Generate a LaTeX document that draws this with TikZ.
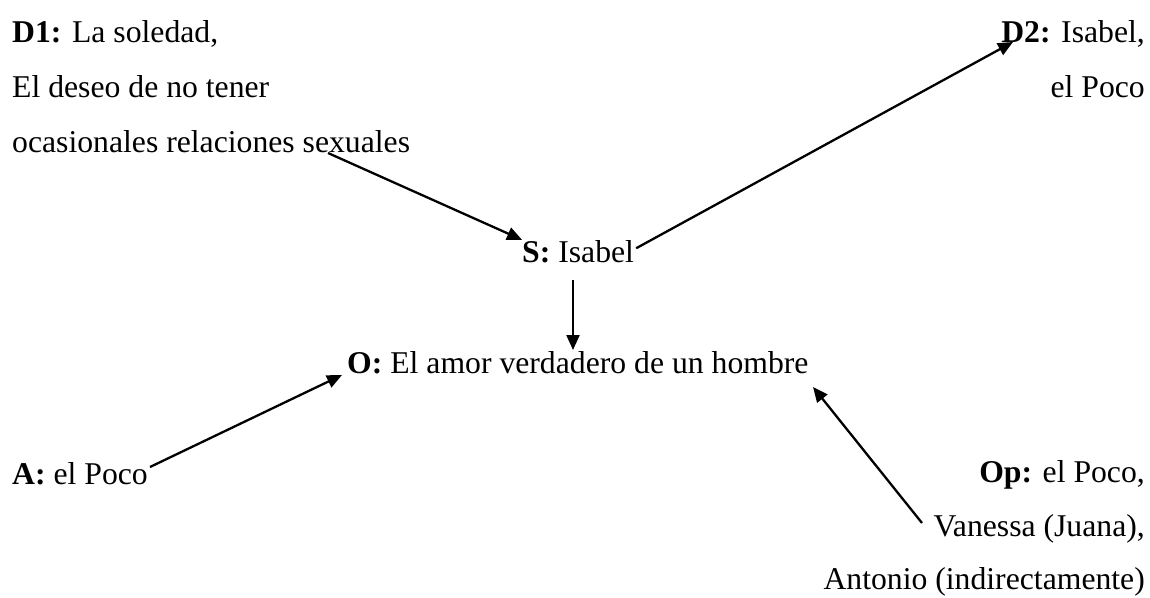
\documentclass[tikz,border=0pt]{standalone}
\usepackage{fontspec}
\setmainfont{Liberation Serif}
\usetikzlibrary{arrows.meta}
\begin{document}
\begin{tikzpicture}[x=1pt,y=-1pt,
  txt/.style={inner sep=0pt, font=\fontsize{31.7}{55}\selectfont},
  conn/.style={-{Triangle[length=15pt,width=13pt]}, line width=2.3pt}]
\useasboundingbox (0,0) rectangle (1150,597);
\node[txt, anchor=base west] (d1a) at (12,42) {\textbf{D1:} La soledad,};
\node[txt, anchor=base west] (d1b) at (12,97) {El deseo de no tener};
\node[txt, anchor=base west] (d1c) at (12,152) {ocasionales relaciones sexuales};
\node[txt, anchor=base east] (d2a) at (1145,42) {\textbf{D2:} Isabel,};
\node[txt, anchor=base east] (d2b) at (1145,97) {el Poco};
\node[txt, anchor=base west] (s) at (522,262) {\textbf{S:} Isabel};
\node[txt, anchor=base west] (o) at (347,373) {\textbf{O:} El amor verdadero de un hombre};
\node[txt, anchor=base west] (a) at (12,484) {\textbf{A:} el Poco};
\node[txt, anchor=base east] (op1) at (1145,482) {\textbf{Op:} el Poco,};
\node[txt, anchor=base east] (op2) at (1145,536) {Vanessa (Juana),};
\node[txt, anchor=base east] (op3) at (1145,589) {Antonio (indirectamente)};
\coordinate (d1tail) at (328,153);
\coordinate (d2tip) at (1013,42);
\coordinate (stail) at (573,280);
\coordinate (stip) at (573,350);
\coordinate (atail) at (150,467);
\coordinate (otip) at (342,375);
\coordinate (optail) at (922,523);
\coordinate (optip) at (813,387);
\draw[conn] (d1tail) -- (s.north west);
\draw[conn] ([xshift=2pt,yshift=3pt]s.east) -- (d2tip);
\draw[conn] (stail) -- (stip);
\draw[conn] (atail) -- (otip);
\draw[conn] (optail) -- (optip);
\end{tikzpicture}
\end{document}
